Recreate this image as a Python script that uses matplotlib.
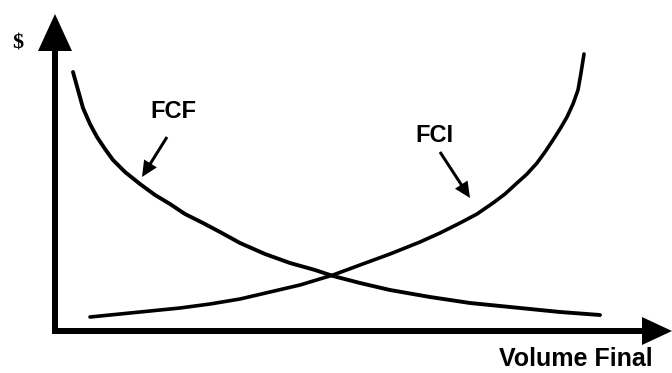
"""Sketch of FCF / FCI cost curves against final volume."""

import matplotlib.pyplot as plt

# curve points (pixel-like units, y grows downward)
fcf_x = [73, 78, 83, 90, 97, 105, 113, 125, 140, 155, 170, 185, 203, 220,
         240, 265, 290, 315, 333, 360, 390, 430, 470, 520, 560, 600]
fcf_y = [72, 90, 108, 124, 137, 149, 160, 172, 184, 195, 204, 214, 223, 232,
         243, 254, 263, 270, 276, 283, 290, 297, 303, 308, 312, 315]

fci_x = [90, 120, 150, 180, 210, 240, 270, 300, 333, 360, 390, 420, 440, 460,
         477, 493, 505, 517, 527, 537, 545, 553, 560, 567, 573, 578, 581, 584]
fci_y = [317, 314, 311, 308, 304, 299, 292, 285, 275, 265, 254, 242, 233, 223,
         214, 203, 194, 183, 174, 163, 152, 140, 129, 117, 104, 90, 73, 54]

# axes origin and ends
origin = (55, 331)
y_end = 14
x_end = 672

labels = {"FCF": (173, 111), "FCI": (434, 135)}
pointers = {"FCF": ((167, 137), (142, 177)), "FCI": ((440, 152), (470, 198))}


def main():
    fig = plt.figure(figsize=(6.72, 3.73), dpi=100)
    ax = fig.add_axes([0, 0, 1, 1])
    ax.set_xlim(0, 672)
    ax.set_ylim(373, 0)
    ax.axis("off")

    # axes drawn as arrows
    ox, oy = origin
    ax.arrow(ox, oy, 0, y_end - oy, width=6, head_width=34, head_length=37,
             length_includes_head=True, color="black", lw=0)
    ax.arrow(ox - 3, oy, x_end - ox + 3, 0, width=6, head_width=28,
             head_length=30, length_includes_head=True, color="black", lw=0)

    ax.plot(fcf_x, fcf_y, color="black", lw=2.8, solid_capstyle="round",
            solid_joinstyle="round")
    ax.plot(fci_x, fci_y, color="black", lw=2.6, solid_capstyle="round",
            solid_joinstyle="round")

    for name, (tx, ty) in labels.items():
        ax.text(tx, ty, name, ha="center", va="center", fontsize=17,
                fontweight="bold", family="Liberation Sans")
        (x0, y0), (x1, y1) = pointers[name]
        ax.arrow(x0, y0, x1 - x0, y1 - y0, width=3, head_width=15,
                 head_length=16, length_includes_head=True, color="black", lw=0)

    ax.text(18, 43, "$", ha="center", va="center", fontsize=16,
            fontweight="bold", family="Liberation Serif")
    ax.text(576, 371, "Volume Final", ha="center", va="bottom", fontsize=18,
            fontweight="bold", family="Liberation Sans")

    fig.savefig("out.png", dpi=100)


if __name__ == "__main__":
    main()
